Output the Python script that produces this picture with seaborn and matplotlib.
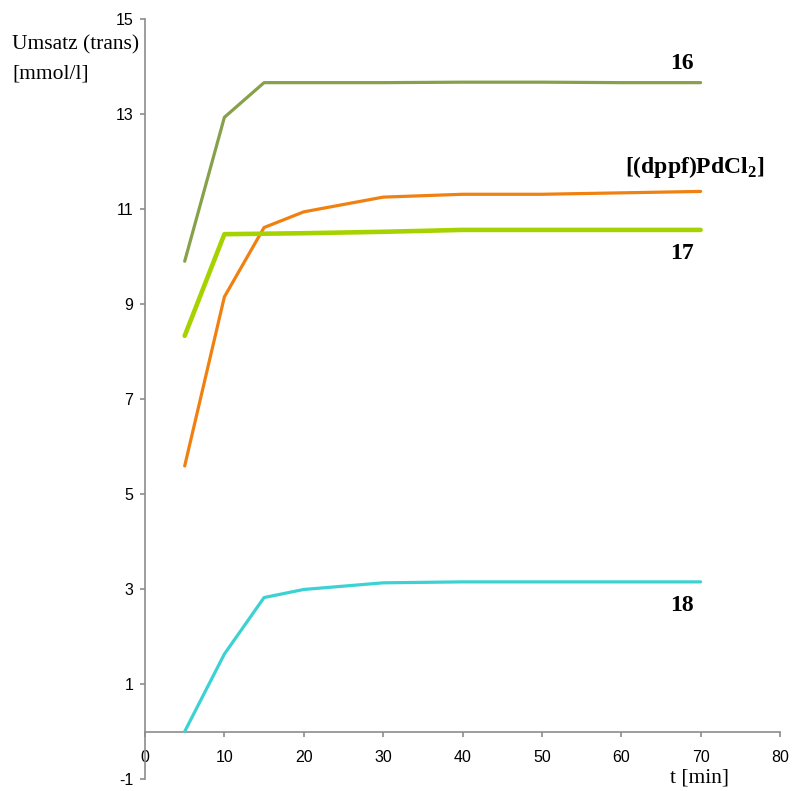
import numpy as np
import pandas as pd
import matplotlib
matplotlib.use("Agg")
import matplotlib.pyplot as plt
import seaborn as sns

# Reaction times [min]
t_min = [5, 10, 15, 20, 30, 40, 50, 60, 70]

# Conversion (trans) [mmol/l] per catalyst
conv_16 = [9.90, 12.93, 13.66, 13.66, 13.66, 13.67, 13.67, 13.66, 13.66]
conv_17 = [8.33, 10.47, 10.48, 10.49, 10.52, 10.56, 10.56, 10.56, 10.56]
conv_dppf = [5.59, 9.15, 10.61, 10.94, 11.25, 11.31, 11.31, 11.34, 11.37]
conv_18 = [0.00, 1.63, 2.82, 2.99, 3.13, 3.15, 3.15, 3.15, 3.15]

series_names = ["16", "17", "dppf", "18"]
series_values = [conv_16, conv_17, conv_dppf, conv_18]

y_ticks = [-1, 1, 3, 5, 7, 9, 11, 13, 15]
x_ticks = [0, 10, 20, 30, 40, 50, 60, 70, 80]

frames = [pd.DataFrame({"t": t_min, "umsatz": vals, "kat": name})
          for name, vals in zip(series_names, series_values)]
df = pd.concat(frames, ignore_index=True)

palette = {"16": "#87a04a", "17": "#a6d300", "dppf": "#f08010", "18": "#3cd2d4"}
widths = {"16": 2.3, "17": 3.3, "dppf": 2.3, "18": 2.3}

sns.set_style("white")
plt.rcParams["font.family"] = ["Liberation Sans", "DejaVu Sans"]
plt.rcParams["axes.unicode_minus"] = False
plt.rcParams["text.color"] = "black"
plt.rcParams["mathtext.fontset"] = "custom"
plt.rcParams["mathtext.rm"] = "Liberation Serif"
plt.rcParams["mathtext.bf"] = "Liberation Serif:bold"

fig = plt.figure(figsize=(7.92, 7.91), dpi=100)
ax = fig.add_axes([145 / 792, 12 / 791, 635 / 792, 760 / 791])

for name in ["16", "dppf", "17", "18"]:
    sub = df[df["kat"] == name]
    sns.lineplot(data=sub, x="t", y="umsatz", ax=ax, color=palette[name],
                 linewidth=widths[name], legend=False, zorder=3)

ax.set_xlim(0, 80)
ax.set_ylim(-1, 15)
ax.set_xticks(x_ticks)
ax.set_yticks(y_ticks)
ax.set_xlabel("")
ax.set_ylabel("")

spine_col = "#8c8c8c"
for s in ["top", "right"]:
    ax.spines[s].set_visible(False)
ax.spines["left"].set_color(spine_col)
ax.spines["left"].set_linewidth(1.2)
ax.spines["bottom"].set_position(("data", 0))
ax.spines["bottom"].set_color(spine_col)
ax.spines["bottom"].set_linewidth(1.2)

ax.tick_params(axis="y", direction="out", length=3.5, width=1.2, color=spine_col,
               labelcolor="black", labelsize=11.5, pad=5, left=True)
ax.tick_params(axis="x", direction="out", length=3.5, width=1.2, color=spine_col,
               labelcolor="black", labelsize=11.5, pad=9.5, bottom=True)

serif = ["Liberation Serif", "DejaVu Serif"]
fig.text(12 / 792, 1 - 45 / 791, "Umsatz (trans)", family=serif, fontsize=15.5,
         va="center", ha="left")
fig.text(12 / 792, 1 - 74 / 791, "[mmol/l]", family=serif, fontsize=15.5,
         va="center", ha="left")
fig.text(700 / 792, 1 - 778 / 791, "t [min]", family=serif, fontsize=15.5,
         va="center", ha="center")

lab_kw = dict(family=serif, fontsize=17, fontweight="bold", ha="center", va="center")
ax.text(67.7, 14.07, "16", **lab_kw)
ax.text(69.2, 11.89, r"[(dppf)PdCl$_\mathbf{2}$]", **lab_kw)
ax.text(67.7, 10.06, "17", **lab_kw)
ax.text(67.7, 2.66, "18", **lab_kw)

fig.savefig("out.png", dpi=100)
